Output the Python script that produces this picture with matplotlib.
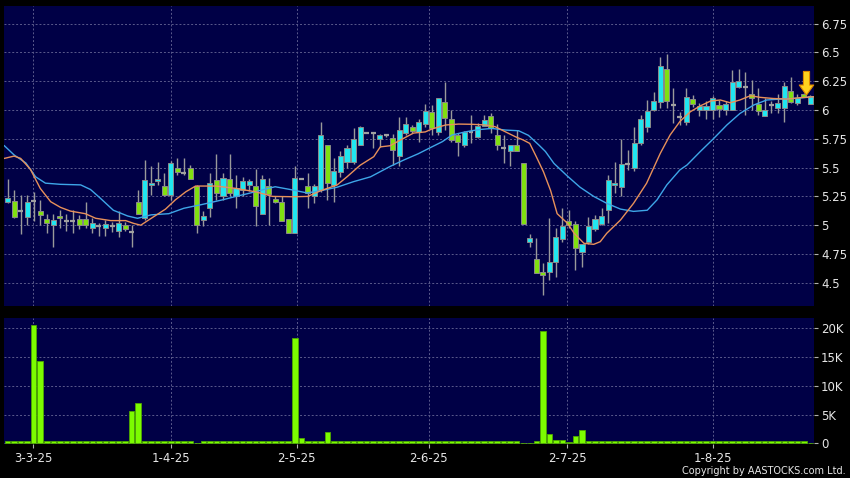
import matplotlib
matplotlib.use("Agg")
import matplotlib.pyplot as plt
from matplotlib.ticker import FixedLocator

# daily candles (open, high, low, close)
opens = [5.20, 5.21, 5.125, 5.07, 5.21, 5.12, 5.05, 5.00, 5.08, 5.04,
         5.04, 5.05, 5.05, 4.98, 4.99, 4.98, 4.99, 4.95, 5.00, 4.94,
         5.20, 5.06, 5.35, 5.38, 5.34, 5.26, 5.50, 5.456, 5.50, 5.343,
         5.045, 5.15, 5.39, 5.25, 5.40, 5.25, 5.31, 5.35, 5.34, 5.10,
         5.34, 5.23, 5.20, 5.05, 4.93, 5.40, 5.34, 5.25, 5.31, 5.70,
         5.35, 5.46, 5.55, 5.55, 5.70, 5.80, 5.80, 5.75, 5.78, 5.76,
         5.60, 5.80, 5.85, 5.81, 5.876, 5.98, 5.81, 6.072, 5.92, 5.78,
         5.70, 5.806, 5.768, 5.864, 5.948, 5.783, 5.673, 5.647, 5.70, 5.537,
         4.852, 4.704, 4.59, 4.591, 4.683, 4.878, 5.04, 5.01, 4.77, 4.852,
         4.964, 5.01, 5.132, 5.35, 5.33, 5.53, 5.50, 5.71, 5.855, 6.00,
         6.072, 6.353, 6.04, 5.94, 5.90, 6.098, 6.00, 6.00, 6.00, 6.046,
         6.00, 6.00, 6.197, 6.197, 6.136, 6.05, 5.948, 6.04, 6.015, 6.015,
         6.168, 6.058, 6.14, 6.052]
highs = [5.40, 5.31, 5.26, 5.26, 5.29, 5.22, 5.10, 5.10, 5.13, 5.10,
         5.13, 5.09, 5.20, 5.06, 5.02, 5.045, 5.03, 5.12, 5.03, 5.00,
         5.31, 5.57, 5.51, 5.55, 5.45, 5.56, 5.58, 5.58, 5.52, 5.35,
         5.12, 5.45, 5.62, 5.45, 5.62, 5.44, 5.42, 5.40, 5.49, 5.44,
         5.41, 5.25, 5.25, 5.05, 5.51, 5.41, 5.45, 5.36, 5.90, 5.70,
         5.58, 5.64, 5.70, 5.84, 5.86, 5.81, 5.81, 5.79, 5.79, 5.79,
         5.94, 5.94, 5.87, 5.92, 6.05, 6.04, 6.10, 6.24, 6.00, 5.80,
         5.82, 5.957, 5.89, 5.957, 5.977, 5.88, 5.78, 5.70, 5.83, 5.537,
         4.92, 4.886, 4.67, 5.06, 4.973, 5.147, 5.13, 5.04, 4.84, 5.07,
         5.09, 5.147, 5.44, 5.546, 5.75, 5.65, 5.855, 5.96, 6.087, 6.154,
         6.46, 6.49, 6.19, 5.98, 6.19, 6.13, 6.06, 6.08, 6.12, 6.09,
         6.08, 6.347, 6.36, 6.333, 6.26, 6.19, 6.10, 6.08, 6.14, 6.246,
         6.284, 6.14, 6.15, 6.13]
lows = [5.19, 5.06, 4.92, 5.00, 5.04, 5.00, 4.93, 4.81, 4.98, 4.95,
        4.93, 4.97, 4.98, 4.93, 4.91, 4.91, 4.94, 4.90, 4.95, 4.81,
        5.10, 5.045, 5.26, 5.35, 5.25, 5.22, 5.44, 5.435, 5.40, 4.93,
        4.99, 5.07, 5.22, 5.22, 5.25, 5.15, 5.25, 5.30, 4.99, 5.10,
        5.00, 5.19, 5.04, 4.93, 4.93, 5.40, 5.15, 5.19, 5.29, 5.22,
        5.20, 5.42, 5.50, 5.53, 5.70, 5.80, 5.67, 5.68, 5.77, 5.52,
        5.51, 5.78, 5.80, 5.72, 5.85, 5.78, 5.78, 5.83, 5.72, 5.60,
        5.68, 5.71, 5.76, 5.86, 5.80, 5.65, 5.537, 5.514, 5.647, 5.008,
        4.81, 4.588, 4.39, 4.524, 4.553, 4.85, 4.98, 4.61, 4.64, 4.84,
        4.95, 5.00, 5.02, 5.277, 5.25, 5.48, 5.47, 5.70, 5.81, 5.99,
        6.015, 6.015, 5.884, 5.87, 5.87, 6.03, 5.95, 5.92, 5.92, 5.94,
        5.96, 6.00, 6.19, 5.957, 6.00, 5.96, 5.948, 5.97, 5.97, 5.90,
        6.06, 6.04, 6.11, 6.05]
closes = [5.24, 5.075, 5.125, 5.20, 5.21, 5.09, 5.02, 5.045, 5.06, 5.04,
          5.04, 5.00, 5.00, 5.02, 4.99, 5.01, 4.99, 5.02, 4.97, 4.94,
          5.10, 5.39, 5.37, 5.40, 5.26, 5.54, 5.46, 5.456, 5.40, 5.00,
          5.083, 5.37, 5.28, 5.41, 5.28, 5.32, 5.38, 5.38, 5.17, 5.40,
          5.27, 5.20, 5.04, 4.93, 5.41, 5.40, 5.28, 5.34, 5.78, 5.37,
          5.47, 5.60, 5.67, 5.75, 5.85, 5.80, 5.80, 5.78, 5.78, 5.65,
          5.83, 5.88, 5.82, 5.90, 5.994, 5.84, 6.10, 5.928, 5.74, 5.72,
          5.81, 5.806, 5.864, 5.913, 5.846, 5.70, 5.673, 5.70, 5.647, 5.008,
          4.886, 4.588, 4.568, 4.683, 4.90, 4.993, 5.00, 4.80, 4.834, 4.993,
          5.05, 5.08, 5.392, 5.37, 5.53, 5.53, 5.71, 5.92, 5.994, 6.08,
          6.38, 6.08, 6.04, 5.94, 6.115, 6.052, 6.037, 6.037, 6.10, 6.009,
          6.05, 6.24, 6.255, 6.197, 6.10, 5.99, 6.00, 6.04, 6.058, 6.208,
          6.072, 6.10, 6.115, 6.12]

# volume in thousands
volumes = [0.4, 0.5, 0.4, 0.4, 20.5, 14.3, 0.5, 0.4, 0.4, 0.4,
           0.4, 0.4, 0.4, 0.4, 0.4, 0.4, 0.4, 0.4, 0.4, 5.6,
           7.0, 0.4, 0.4, 0.4, 0.4, 0.4, 0.4, 0.4, 0.4, 0.0,
           0.4, 0.4, 0.4, 0.4, 0.4, 0.4, 0.4, 0.4, 0.4, 0.4,
           0.4, 0.4, 0.4, 0.4, 18.3, 1.0, 0.4, 0.4, 0.4, 1.9,
           0.4, 0.4, 0.4, 0.4, 0.4, 0.4, 0.4, 0.4, 0.4, 0.4,
           0.4, 0.4, 0.4, 0.4, 0.4, 0.4, 0.4, 0.4, 0.4, 0.4,
           0.4, 0.4, 0.4, 0.4, 0.4, 0.4, 0.4, 0.4, 0.4, 0.0,
           0.0, 0.4, 19.4, 1.6, 0.6, 0.65, 0.3, 1.2, 2.4, 0.4,
           0.4, 0.4, 0.4, 0.4, 0.4, 0.4, 0.4, 0.4, 0.4, 0.4,
           0.4, 0.4, 0.4, 0.4, 0.4, 0.4, 0.4, 0.4, 0.4, 0.4,
           0.4, 0.4, 0.4, 0.4, 0.4, 0.4, 0.4, 0.4, 0.4, 0.4,
           0.4, 0.4, 0.4, 0.0]

# moving averages, sampled along the lines (x in candle index units)
ma_short_x = [-0.5, 1, 2, 3.5, 5, 6.6, 8.1, 9.6, 11.9, 13.5, 15.8, 18.1, 19.3,
              20.4, 21.6, 24.2, 25.7, 27.3, 28.8, 31.9, 34.9, 38, 40.6, 43.8,
              46, 48, 50.5, 52, 54, 56.1, 57.1, 58.6, 60.2, 62.2, 64, 65,
              67.1, 69.1, 71.2, 73.2, 74.7, 76.3, 77.8, 79, 80, 81, 82.1,
              83.2, 84.2, 85.8, 86.8, 88.3, 89.8, 90.8, 91.8, 93.9, 95.9,
              97.9, 100, 101.5, 103, 104.6, 106.1, 107.7, 109.2, 110.7,
              112.2, 113.8, 115.3, 117.3, 119.4, 121.4, 123.5]
ma_short = [5.58, 5.60, 5.58, 5.485, 5.32, 5.204, 5.155, 5.123, 5.10, 5.06,
            5.04, 5.04, 5.016, 5.0, 5.045, 5.14, 5.22, 5.29, 5.34, 5.34,
            5.32, 5.29, 5.25, 5.247, 5.25, 5.30, 5.35, 5.42, 5.52, 5.595,
            5.68, 5.69, 5.74, 5.80, 5.81, 5.835, 5.87, 5.878, 5.876, 5.87,
            5.855, 5.81, 5.768, 5.74, 5.71, 5.595, 5.464, 5.30, 5.10, 5.016,
            4.93, 4.843, 4.834, 4.857, 4.93, 5.045, 5.19, 5.364, 5.624,
            5.783, 5.90, 5.985, 6.035, 6.078, 6.087, 6.063, 6.087, 6.124,
            6.11, 6.10, 6.095, 6.107, 6.115]
ma_long_x = [-0.5, 1, 2.8, 4.3, 5.8, 8.1, 11.2, 12.7, 14.2, 16.2, 18.4, 19.9,
             22, 24.7, 27, 29.8, 32.9, 35, 37, 39, 41, 43.3, 45.9, 48, 50.5,
             53, 55.6, 58.6, 60.7, 62.9, 65, 66.6, 68.1, 70.1, 72.2, 74.2,
             76.3, 78.3, 79.8, 81.4, 82.4, 83.7, 85.7, 87.7, 89.8, 91.8,
             93.9, 95.9, 98, 99.5, 101, 103, 104.1, 106.1, 108.2, 110.2,
             112.2, 114.3, 116.3, 118.4, 120.4, 122.5, 123.5]
ma_long = [5.69, 5.61, 5.54, 5.42, 5.365, 5.355, 5.35, 5.31, 5.235, 5.13,
           5.08, 5.06, 5.09, 5.10, 5.147, 5.18, 5.22, 5.25, 5.277, 5.306,
           5.334, 5.31, 5.28, 5.30, 5.33, 5.378, 5.42, 5.51, 5.566, 5.62,
           5.68, 5.725, 5.783, 5.81, 5.83, 5.84, 5.826, 5.82, 5.78, 5.696,
           5.64, 5.537, 5.43, 5.33, 5.25, 5.19, 5.14, 5.12, 5.13, 5.22,
           5.35, 5.48, 5.523, 5.638, 5.754, 5.87, 5.97, 6.043, 6.087,
           6.095, 6.10, 6.11, 6.115]

date_pos = [3.9, 25.1, 44.3, 64.5, 85.7, 108.0]
date_labels = ["3-3-25", "1-4-25", "2-5-25", "2-6-25", "2-7-25", "1-8-25"]
price_ticks = [4.5, 4.75, 5, 5.25, 5.5, 5.75, 6, 6.25, 6.5, 6.75]
vol_ticks = [0, 5, 10, 15, 20]

bg = "#000046"
grid_c = "#5a5a8c"
txt_c = "#e6e6e6"
up_c = "#20e6f0"
down_c = "#80e010"

fig = plt.figure(figsize=(8.5, 4.78), dpi=100, facecolor="black")
ax = fig.add_axes([4 / 850, 1 - 305.5 / 478, 810 / 850, 299.5 / 478], facecolor=bg)
axv = fig.add_axes([4 / 850, 1 - 444 / 478, 810 / 850, 126 / 478], facecolor=bg)

# candles
n = len(closes)
xs = list(range(n))
ax.vlines(xs, lows, highs, color="#9a9a9a", linewidth=1, zorder=2)
for i in xs:
    o, c = opens[i], closes[i]
    if abs(c - o) < 0.001:
        ax.hlines(o, i - 0.38, i + 0.38, color="#a0a0a0", linewidth=1.6, zorder=3)
        continue
    col = up_c if c > o else down_c
    ax.bar(i, abs(c - o), bottom=min(o, c), width=0.78, color=col,
           edgecolor="#8a8a8a", linewidth=0.7, zorder=3)

ax.plot(ma_long_x, ma_long, color="#3ea6e8", linewidth=1, zorder=4)
ax.plot(ma_short_x, ma_short, color="#e8915a", linewidth=1, zorder=4)

# last-day marker
ax.annotate("", xy=(122.4, 6.13), xytext=(122.4, 6.335),
            arrowprops=dict(arrowstyle="simple,head_width=1.3,head_length=0.9,tail_width=0.55",
                            fc="#ffd21e", ec="#e08a00", lw=0.8, mutation_scale=8,
                            shrinkA=0, shrinkB=0), zorder=5)

ax.set_xlim(-0.55, 123.55)
ax.set_ylim(4.303, 6.903)
ax.yaxis.tick_right()
ax.set_yticks(price_ticks)
ax.set_yticklabels(["4.5", "4.75", "5", "5.25", "5.5", "5.75", "6", "6.25", "6.5", "6.75"])
ax.xaxis.set_major_locator(FixedLocator(date_pos))
ax.tick_params(axis="x", length=0, labelbottom=False)
ax.tick_params(axis="y", length=3, width=0.8, color="#b0b0b0", labelcolor=txt_c,
               labelsize=8.5, pad=2)
ax.grid(True, color=grid_c, linestyle=(0, (2, 2)), linewidth=0.7)
ax.set_axisbelow(True)

# volume
axv.bar(xs, volumes, width=0.85, color="#7cfc00", edgecolor="#4fa800", linewidth=0.6, zorder=3)
axv.set_xlim(-0.55, 123.55)
axv.set_ylim(-0.1, 21.7)
axv.yaxis.tick_right()
axv.set_yticks(vol_ticks)
axv.set_yticklabels(["0", "5K", "10K", "15K", "20K"])
axv.set_xticks(date_pos)
axv.set_xticklabels(date_labels)
axv.tick_params(axis="x", length=3, width=0.8, color="#b0b0b0", labelcolor=txt_c,
                labelsize=8.5, pad=3)
axv.tick_params(axis="y", length=3, width=0.8, color="#b0b0b0", labelcolor=txt_c,
                labelsize=8.5, pad=2)
axv.grid(True, color=grid_c, linestyle=(0, (2, 2)), linewidth=0.7)
axv.set_axisbelow(True)

for a in (ax, axv):
    for s in a.spines.values():
        s.set_visible(False)

fig.text(846 / 850, 1 - 471 / 478, "Copyright by AASTOCKS.com Ltd.", color=txt_c,
         fontsize=7, ha="right", va="center")

fig.savefig("out.png", dpi=100, facecolor="black")
